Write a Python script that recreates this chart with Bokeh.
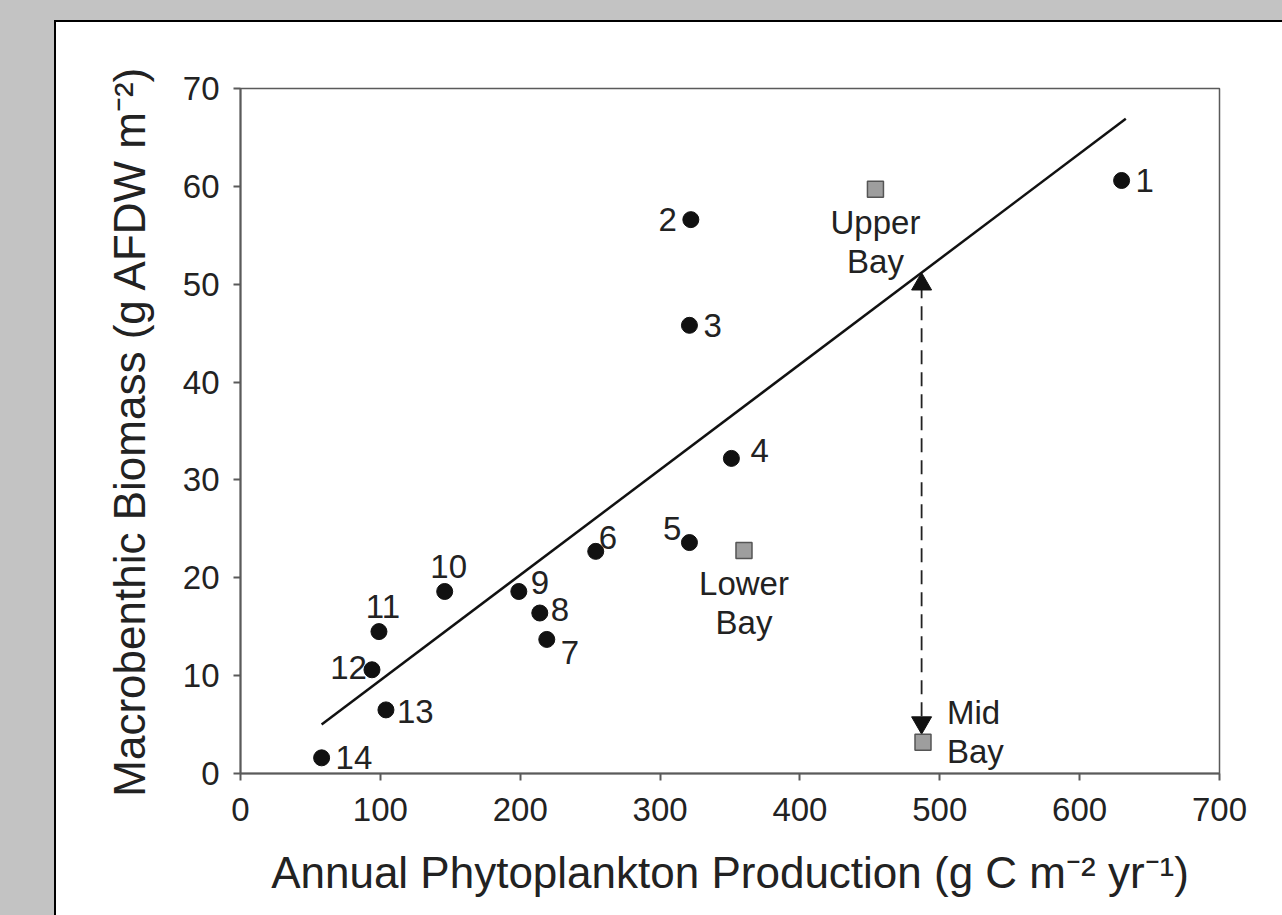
from bokeh.plotting import figure
from bokeh.models import Spacer, ColumnDataSource, Range1d, FixedTicker
from bokeh.layouts import row, column
from bokeh.embed import file_html
from bokeh.resources import INLINE
from bokeh.core.properties import value

# ---- data ----
site_labels = ["1", "2", "3", "4", "5", "6", "7", "8", "9", "10", "11", "12", "13", "14"]
site_prod = [630, 322, 321, 351, 321, 254, 219, 214, 199, 146, 99, 94, 104, 58]
site_biomass = [60.6, 56.6, 45.8, 32.2, 23.6, 22.7, 13.7, 16.4, 18.6, 18.6, 14.5, 10.6, 6.5, 1.6]
# side of the point where each label sits
site_label_side = ["r", "l", "r", "ur4", "ul", "ur6", "lr", "r8", "ur9", "u", "u", "l12", "r13", "r"]

bay_labels = ["Upper\nBay", "Lower\nBay", "Mid\nBay"]
bay_prod = [454, 360, 488]
bay_biomass = [59.7, 22.8, 3.2]
bay_label_side = ["below", "below", "right"]

fit_x = [58, 633]
fit_y = [5.0, 66.9]

arrow_x = [487]
arrow_top = [50.0]
arrow_bottom = [5.2]

x_ticks = [0, 100, 200, 300, 400, 500, 600, 700]
y_ticks = [0, 10, 20, 30, 40, 50, 60, 70]

# ---- styling ----
FONT = "Liberation Sans"
TXT = "#222222"
AX = "#5a5a5a"
LABEL_PX = "33px"

offsets = {
    "r": (14, 0, "left", "middle"),
    "l": (-14, 0, "right", "middle"),
    "ur4": (19, -8, "left", "middle"),
    "ul": (-8, -14, "right", "middle"),
    "ur6": (3, -14, "left", "middle"),
    "lr": (14, 13, "left", "middle"),
    "r8": (11, -4, "left", "middle"),
    "ur9": (12, -9, "left", "middle"),
    "u": (4, -25, "center", "middle"),
    "l12": (-5, -2, "right", "middle"),
    "r13": (11, 2, "left", "middle"),
}
bay_offsets = {
    "below": (0, 53, "center", "middle"),
    "right": (24, -10, "left", "middle"),
}

p = figure(width=1226, height=893,
           x_range=Range1d(0, 700), y_range=Range1d(0, 70),
           output_backend="svg", toolbar_location=None,
           min_border_left=184, min_border_right=63,
           min_border_top=66, min_border_bottom=142)
p.xgrid.visible = False
p.ygrid.visible = False
p.outline_line_color = AX
p.outline_line_width = 1.5
p.background_fill_color = "white"
p.border_fill_color = "white"

for ax in (p.xaxis[0], p.yaxis[0]):
    ax.axis_line_color = AX
    ax.axis_line_width = 2
    ax.major_tick_line_color = AX
    ax.major_tick_line_width = 2
    ax.major_tick_out = 7
    ax.major_tick_in = 0
    ax.minor_tick_out = 0
    ax.minor_tick_in = 0
    ax.major_label_text_font = FONT
    ax.major_label_text_font_size = LABEL_PX
    ax.major_label_text_color = TXT
    ax.axis_label_text_font = FONT
    ax.axis_label_text_font_size = "44px"
    ax.axis_label_text_font_style = "normal"
    ax.axis_label_text_color = TXT

p.xaxis.ticker = FixedTicker(ticks=x_ticks)
p.yaxis.ticker = FixedTicker(ticks=y_ticks)
p.xaxis.axis_label = "Annual Phytoplankton Production (g C m\u207b\u00b2 yr\u207b\u00b9)"
p.yaxis.axis_label = "Macrobenthic Biomass (g AFDW m\u207b\u00b2)"
p.xaxis.major_label_standoff = 17
p.yaxis.major_label_standoff = 14
p.xaxis.axis_label_standoff = 24
p.yaxis.axis_label_standoff = 26

# regression line
p.line(fit_x, fit_y, line_color="#111111", line_width=2.5)

# dashed arrow between line and Mid Bay
p.segment(x0=arrow_x, y0=arrow_top, x1=arrow_x, y1=arrow_bottom,
          line_color="#222222", line_width=1.8, line_dash="14 8")
p.scatter(arrow_x, arrow_top, marker="triangle", size=20,
          fill_color="#111111", line_color="#111111")
p.scatter(arrow_x, arrow_bottom, marker="inverted_triangle", size=20,
          fill_color="#111111", line_color="#111111")

# sites
src = ColumnDataSource(dict(
    x=site_prod, y=site_biomass, t=site_labels,
    dx=[offsets[s][0] for s in site_label_side],
    dy=[offsets[s][1] for s in site_label_side],
    al=[offsets[s][2] for s in site_label_side],
))
p.scatter("x", "y", source=src, marker="circle", size=16,
          fill_color="#111111", line_color="#111111")
p.text("x", "y", text="t", source=src, x_offset="dx", y_offset="dy",
       text_align="al", text_baseline="middle",
       text_font=value(FONT), text_font_size=LABEL_PX, text_color=TXT)

# bay regions
bsrc = ColumnDataSource(dict(
    x=bay_prod, y=bay_biomass, t=bay_labels,
    dx=[bay_offsets[s][0] for s in bay_label_side],
    dy=[bay_offsets[s][1] for s in bay_label_side],
    al=[bay_offsets[s][2] for s in bay_label_side],
))
p.scatter("x", "y", source=bsrc, marker="square", size=16,
          fill_color="#9e9e9e", line_color="#555555", line_width=1.5)
p.text("x", "y", text="t", source=bsrc, x_offset="dx", y_offset="dy",
       text_align="al", text_baseline="middle", text_line_height=1.05,
       text_font=value(FONT), text_font_size=LABEL_PX, text_color=TXT)

GRAY = {"background-color": "#c3c3c3"}
BLACK = {"background-color": "#000000"}
layout = row(
    Spacer(width=54, height=915, styles=GRAY),
    column(
        Spacer(width=1228, height=20, styles=GRAY),
        row(
            Spacer(width=2, height=895, styles=BLACK),
            column(
                Spacer(width=1226, height=2, styles=BLACK),
                p,
            ),
        ),
    ),
)

open("out.html", "w").write(file_html(layout, INLINE))
